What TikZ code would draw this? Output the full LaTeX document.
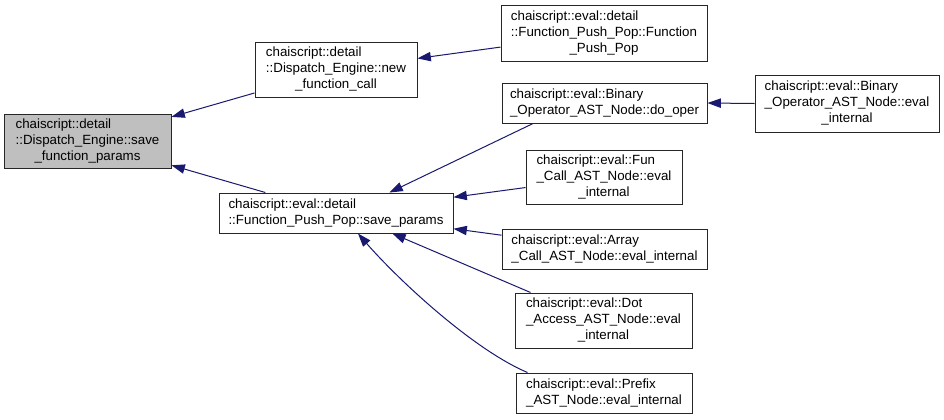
\documentclass[tikz,border=0pt]{standalone}
\usepackage{fontspec}
\setmainfont{Liberation Sans}
\usetikzlibrary{arrows.meta}
\definecolor{edgeblue}{HTML}{191970}
\definecolor{nodegray}{HTML}{BFBFBF}
\newcommand{\ltwo}[2]{\begin{tabular}{@{}l@{}}#1\\#2\end{tabular}}
\newcommand{\lthree}[3]{\begin{tabular}{@{}l@{}}#1\\#2\\\multicolumn{1}{@{}c@{}}{#3}\end{tabular}}
\begin{document}
\begin{tikzpicture}[x=0.75pt,y=-0.75pt,
  fn/.style={draw=black!85, line width=0.75pt, fill=white, inner sep=0pt,
    font=\fontsize{10}{12}\selectfont},
  cur/.style={fn, fill=nodegray},
  arr/.style={draw=edgeblue, line width=0.75pt,
    -{Triangle[length=10pt,width=7pt,fill=edgeblue]}}]
\useasboundingbox (0,0) rectangle (944,419);
\fill[white] (0,0) rectangle (944,419);

\node[cur, minimum width=125.25pt, minimum height=40.5pt] (A) at (87.5,141)
  {\lthree{chaiscript::detail}{::Dispatch\_Engine::save}{\_function\_params}};
\node[fn, minimum width=121.5pt, minimum height=41.25pt] (B) at (336,69.5)
  {\lthree{chaiscript::detail}{::Dispatch\_Engine::new}{\_function\_call}};
\node[fn, minimum width=175.5pt, minimum height=30pt] (C) at (336,213)
  {\ltwo{chaiscript::eval::detail}{::Function\_Push\_Pop::save\_params}};
\node[fn, minimum width=154.5pt, minimum height=42pt] (D) at (604,33)
  {\lthree{chaiscript::eval::detail}{::Function\_Push\_Pop::Function}{\_Push\_Pop}};
\node[fn, minimum width=153.75pt, minimum height=30pt] (E) at (604.5,103)
  {\ltwo{chaiscript::eval::Binary}{\_Operator\_AST\_Node::do\_oper}};
\node[fn, minimum width=138pt, minimum height=42.75pt] (F) at (847,103.5)
  {\lthree{chaiscript::eval::Binary}{\_Operator\_AST\_Node::eval}{\_internal}};
\node[fn, minimum width=117pt, minimum height=40.5pt] (G) at (604,177)
  {\lthree{chaiscript::eval::Fun}{\_Call\_AST\_Node::eval}{\_internal}};
\node[fn, minimum width=153.75pt, minimum height=30pt] (H) at (604.5,249)
  {\ltwo{chaiscript::eval::Array}{\_Call\_AST\_Node::eval\_internal}};
\node[fn, minimum width=132.75pt, minimum height=41.25pt] (I) at (603.5,320.5)
  {\lthree{chaiscript::eval::Dot}{\_Access\_AST\_Node::eval}{\_internal}};
\node[fn, minimum width=132pt, minimum height=30pt] (J) at (604,393)
  {\ltwo{chaiscript::eval::Prefix}{\_AST\_Node::eval\_internal}};

\draw[arr] (B) -- (A);
\draw[arr] (C) -- (A);
\draw[arr] (D) -- (B);
\draw[arr] (E.196.5) -- (C.21.4);
\draw[arr] (F.west) -- (E.east);
\draw[arr] (G) -- (C);
\draw[arr] (H) -- (C);
\draw[arr] (I.159) -- (C.340);
\draw[arr] (J.165.4) to[out=157,in=311,looseness=0.7] (C.317.7);
\end{tikzpicture}
\end{document}
